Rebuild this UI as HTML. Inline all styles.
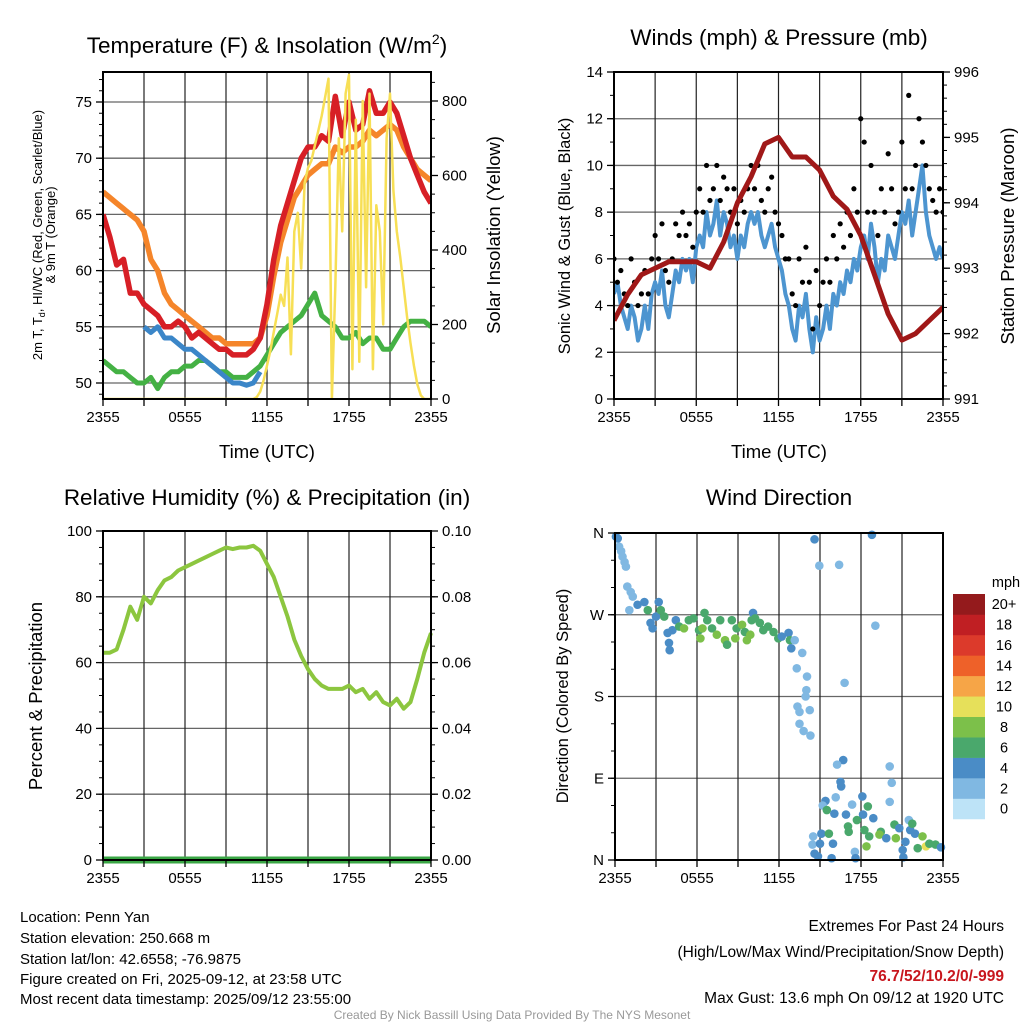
<!DOCTYPE html>
<html><head><meta charset="utf-8">
<style>
html,body{margin:0;padding:0;background:#fff;}
svg{display:block;font-family:"Liberation Sans",Arial,sans-serif;}
</style></head>
<body>
<svg id="chart" width="1024" height="1024" viewBox="0 0 1024 1024" xmlns="http://www.w3.org/2000/svg">
<rect width="1024" height="1024" fill="#fff"/>
<g id="p1"></g>
<g id="p2"></g>
<g id="p3"></g>
<g id="p4"></g>

<text x="267" y="53" font-size="22.5" text-anchor="middle">Temperature (F) &amp; Insolation (W/m<tspan dy="-9" font-size="14">2</tspan><tspan dy="9">)</tspan></text>
<text x="779" y="45" font-size="22.5" text-anchor="middle">Winds (mph) &amp; Pressure (mb)</text>
<text x="267" y="505" font-size="22.5" text-anchor="middle">Relative Humidity (%) &amp; Precipitation (in)</text>
<text x="779" y="505" font-size="22.5" text-anchor="middle">Wind Direction</text>

<text x="267" y="458" font-size="18.5" text-anchor="middle">Time (UTC)</text>
<text x="779" y="458" font-size="18.5" text-anchor="middle">Time (UTC)</text>

<text transform="translate(42,235) rotate(-90)" font-size="13" text-anchor="middle">2m T, T<tspan dy="3" font-size="9">d</tspan><tspan dy="-3">, HI/WC (Red, Green, Scarlet/Blue)</tspan></text>
<text transform="translate(55,235) rotate(-90)" font-size="13" text-anchor="middle">&amp; 9m T (Orange)</text>
<text transform="translate(500,235) rotate(-90)" font-size="18.5" text-anchor="middle">Solar Insolation (Yellow)</text>
<text transform="translate(570,236) rotate(-90)" font-size="16.5" text-anchor="middle">Sonic Wind &amp; Gust (Blue, Black)</text>
<text transform="translate(1014,236) rotate(-90)" font-size="18.5" text-anchor="middle">Station Pressure (Maroon)</text>
<text transform="translate(42,696) rotate(-90)" font-size="18.5" text-anchor="middle">Percent &amp; Precipitation</text>
<text transform="translate(568,696) rotate(-90)" font-size="16.5" text-anchor="middle">Direction (Colored By Speed)</text>

<g font-size="15">
<text x="20" y="922">Location: Penn Yan</text>
<text x="20" y="943">Station elevation: 250.668 m</text>
<text x="20" y="964">Station lat/lon: 42.6558; -76.9875</text>
<text x="20" y="984">Figure created on Fri, 2025-09-12, at 23:58 UTC</text>
<text x="20" y="1004">Most recent data timestamp: 2025/09/12 23:55:00</text>
</g>
<g font-size="15.5" text-anchor="end">
<text x="1004" y="931">Extremes For Past 24 Hours</text>
<text x="1004" y="957">(High/Low/Max Wind/Precipitation/Snow Depth)</text>
<text x="1004" y="981" font-weight="bold" fill="#c8171e">76.7/52/10.2/0/-999</text>
<text x="1004" y="1003">Max Gust: 13.6 mph On 09/12 at 1920 UTC</text>
</g>
<text x="512" y="1019" font-size="12" fill="#999" text-anchor="middle">Created By Nick Bassill Using Data Provided By The NYS Mesonet</text>
</svg>
<script>
// ---------- data ----------
const xTickLabels = ["2355","0555","1155","1755","2355"];
const tempLeftTicks = [50,55,60,65,70,75];
const solarTicks = [0,200,400,600,800];
const windTicks = [0,2,4,6,8,10,12,14];
const pressTicks = [991,992,993,994,995,996];
const rhTicks = [0,20,40,60,80,100];
const precipTicks = ["0.00","0.02","0.04","0.06","0.08","0.10"];
const dirTicks = ["N","E","S","W","N"];
const speedBins = ["0","2","4","6","8","10","12","14","16","18","20+"];
const speedColors = ["#bde3f7","#80b8e2","#4a8cc6","#4aa86c","#7cc04a","#e6e05a","#f6a547","#ee6129","#dc3a2b","#c01f23","#941a1c"];

const tempRed = [65,63,60.5,61,58,58,57,56.5,56,55,55,55.5,55,54,54.5,54,53.5,53,53,52.5,52.5,52.5,53,54,57,61,64,66,68,70,71,71,72,71.5,75.5,72,75,72.5,73,76,74,74,75,74,72,70,68.5,67,66];
const tempOrange = [67,66.5,66,65.5,65,64.5,63.5,61,60,58,57,56.5,56,55.5,55,54.5,54,54,53.5,53.5,53.5,53.5,53.5,54,56,59.5,62.5,64.5,66.5,67.5,68.5,69,69.5,69.5,71,70.5,71,71,71.5,72.5,72,72.5,73,72.5,71,70,69,68.5,68];
const tempGreen = [52,51.5,51,51,50.5,50,50,50.5,49.5,50.5,51,51,51.5,51.5,52,52,51.5,51,51,50.5,50.5,50.5,51,51.5,52.5,53.5,54.5,55,55.5,56,57,58,56,55.5,55,54,54,54.5,53.5,54,54,53,53,54,55,55.5,55.5,55.5,55];
const hiwcStartHour = 3;
const hiwcBlue = [55,54.5,55,54,54,53.5,53,53,52.5,52,51.5,51,50.5,50,50,49.8,50,51];
const solarHours = [0,11,11.25,11.5,11.75,12,12.25,12.5,12.75,13,13.25,13.5,13.75,14,14.25,14.5,14.75,15,15.25,15.5,15.75,16,16.25,16.5,16.75,17,17.25,17.5,17.75,18,18.25,18.5,18.75,19,19.25,19.5,19.75,20,20.25,20.5,20.75,21,21.25,21.5,21.75,22,22.25,22.5,22.75,23,23.25,23.5,24];
const solarVals = [0,0,5,20,50,90,130,180,230,280,250,380,120,450,500,350,580,620,640,680,720,760,810,860,0,300,700,450,820,870,80,750,100,800,300,820,80,520,450,200,700,820,560,450,380,300,220,150,90,40,10,0,0];

const windBlue = [4.5,5,4,3.5,3,4,3.5,2.5,3, 4,3,4.5,5,4.5,5.5,4,3.5, 4.5,5.5,5,6,5.5,6,5,6.5, 7,6.5,8,7,7.5,8.5,7,8, 7.5,6.5,7,6,7,6.5,7.5,8, 7.5,8,7,6.5,7,7.5,6.5,6, 5.5,4.5,4,3,2.5,4,3.5,4.5, 3,2,3.5,2.5,3,4,3,4.5, 4,5,4.5,5.5,5,6,5.5,6.5, 7,6,7.5,6.5,5,6,5.5,7, 6.5,6,7,8,7.5,8.5,7,8, 9,10,8,7,6.5,6,6.5,6];
const windGust = [6,5,5.5,4.5,4,6,5,4,4.5, 5.5,4.5,6,7,6,7.5,5.5,5, 6,7.5,7,8,7,7.5,6.5,8, 9,8,10,8.5,9,10,8.5,9.5, 9,8,9,7.5,8.5,8,9,10, 9,10,8.5,8,9,9.5,8,7.5, 7,6,6,4.5,4,6,5,6.5, 5,3,5.5,4,5,6,5,7, 6,7.5,6.5,8,7,9,8,12, 11,8,10,8,7,9,8,10.5, 9,7.5,8,11,9,13,9,10, 12,11,10,9,8.5,8,9,8];
const pressure = [992.2,992.6,992.9,993.0,993.1,993.1,993.1,993.0,993.4,994.0,994.4,994.9,995.0,994.7,994.7,994.5,994.1,993.9,993.5,992.9,992.3,991.9,992.0,992.2,992.4];

const rh = [63,63,64,70,77,73,80,78,82,85,86,88,89,90,91,92,93,94,95,94.5,95,95,95.5,94,90,86,80,74,67,62,58,55,53,52,52,52,53,51,52,49,51,48,47,49,46,48,55,63,69];
const precip = [0,0,0,0,0,0,0,0,0,0,0,0,0,0,0,0,0,0,0,0,0,0,0,0,0];

const dirHours = [0.07,0.2,0.3,0.45,0.55,0.7,0.8,0.9,1.15,1.3,1.05,1.65,2.15,2.4,2.6,2.75,3.0,3.2,3.35,3.6,3.85,3.95,4.0,4.2,4.45,4.7,5.05,5.4,5.75,6.15,6.25,6.4,6.55,6.75,7.1,7.45,7.7,8.05,8.2,8.55,8.8,8.9,9.3,9.5,9.65,9.9,10.0,10.1,10.25,10.6,10.85,11.2,11.6,11.95,12.2,12.7,12.8,12.9,13.15,13.7,13.3,14.05,14.0,13.95,13.35,13.5,14.25,13.5,13.8,14.3,14.6,14.95,16.4,18.8,19.05,16.8,16.7,16.25,16.5,16.55,16.15,15.4,15.2,15.5,16.05,16.9,17.35,18.1,18.5,18.15,17.7,17.05,17.1,18.25,18.6,18.4,18.9,19.45,19.35,19.85,20.1,20.1,20.25,20.45,20.55,20.8,21.1,21.25,21.5,21.6,21.75,21.95,22.15,22.5,22.75,23.0,23.45,23.85,14.5,14.45,14.6,14.85,15.0,15.1,15.65,15.95,15.85,17.55,17.6,21.05];
const dirDeg = [356,354,345,340,334,328,323,301,295,290,275,281,284,275,261,255,268,284,275,268,250,239,231,253,264,257,255,264,266,253,244,255,272,264,255,248,264,242,237,264,244,255,259,251,242,248,264,272,266,261,253,257,251,244,246,250,242,233,242,228,211,202,187,180,169,163,165,150,142,137,353,324,325,358,258,195,110,105,86,81,69,65,60,55,51,50,61,70,59,50,44,37,31,33,26,15,46,31,28,24,64,103,85,39,24,35,3,20,44,33,40,29,13,26,15,18,17,14,26,17,7,4,18,29,29,18,2,9,2,11];
const dirSpeed = [4.5,4.5,2.5,2.5,2.5,2.5,2.5,2.5,2.5,2.5,2.5,4.5,4.5,6.5,4.5,4.5,4.5,4.5,6.5,6.5,4.5,4.5,4.5,4.5,4.5,6.5,8.5,6.5,6.5,6.5,8.5,8.5,6.5,6.5,6.5,8.5,6.5,8.5,6.5,6.5,8.5,6.5,8.5,6.5,8.5,8.5,6.5,4.5,6.5,6.5,6.5,6.5,6.5,6.5,4.5,4.5,6.5,4.5,2.5,2.5,2.5,2.5,2.5,2.5,2.5,2.5,2.5,2.5,2.5,2.5,4.5,2.5,2.5,4.5,2.5,2.5,4.5,2.5,4.5,4.5,2.5,4.5,2.5,6.5,4.5,4.5,2.5,4.5,6.5,4.5,6.5,6.5,6.5,6.5,6.5,8.5,4.5,6.5,8.5,4.5,2.5,2.5,2.5,6.5,8.5,4.5,4.5,4.5,2.5,4.5,6.5,4.5,6.5,8.5,10.5,6.5,6.5,4.5,2.5,2.5,4.5,4.5,4.5,4.5,6.5,4.5,4.5,2.5,4.5,4.5];

// ---------- helpers ----------
const NS = "http://www.w3.org/2000/svg";
function mk(parent, tag, attrs){ const e=document.createElementNS(NS,tag); for(const k in attrs) e.setAttribute(k,attrs[k]); parent.appendChild(e); return e; }
function lin(d0,d1,r0,r1){ return v => r0 + (v-d0)/(d1-d0)*(r1-r0); }
function pathFrom(xs, ys){ return xs.map((x,i)=>(i?"L":"M")+x.toFixed(1)+","+ys[i].toFixed(1)).join(""); }

function frame(g, L, T, R, B, hLines, vLines){
  for(const y of hLines){
    const ln = mk(g,"line",{x1:L,x2:R,y1:y,y2:y,stroke:"#666","stroke-width":1.3});
    
    
  }
  for(const x of vLines){
    const ln = mk(g,"line",{x1:x,x2:x,y1:T,y2:B,stroke:"#222","stroke-width":1.2});
    
    
  }
}
function border(g,L,T,R,B){
  const r = mk(g,"rect",{x:L,y:T,width:R-L,height:B-T,fill:"none",stroke:"#000","stroke-width":2});
  
  
}
function xAxis(g,L,R,B){
  const xs = lin(0,24,L,R);
  xTickLabels.forEach((lab,i)=>{
    const x = xs(i*6);
    const t = mk(g,"text",{x:x,y:B+23,"font-size":15,"text-anchor":"middle"});
    t.textContent = lab;
    
    
  });
  for(let h=0;h<=24;h+=3){ mk(g,"line",{x1:xs(h),x2:xs(h),y1:B,y2:B+7,stroke:"#000","stroke-width":1.3}); }
}
function yAxis(g, ticks, labels, scale, xEdge, side, minorStep, minorRange){
  const dir = side==="left"?-1:1;
  if(minorStep){
    for(let v=minorRange[0]; v<=minorRange[1]+1e-9; v+=minorStep){
      mk(g,"line",{x1:xEdge,x2:xEdge+dir*4,y1:scale(v),y2:scale(v),stroke:"#000","stroke-width":1});
    }
  }
  ticks.forEach((v,i)=>{
    const y = scale(v);
    mk(g,"line",{x1:xEdge,x2:xEdge+dir*7,y1:y,y2:y,stroke:"#000","stroke-width":1.3});
    const t = mk(g,"text",{x:xEdge+dir*11,y:y+5,"font-size":15,"text-anchor":side==="left"?"end":"start"});
    t.textContent = labels[i];
    
    
  });
}

// ---------- Panel 1: temperature ----------
(function(){
  const g=document.getElementById("p1");
  const L=103,R=431,T=72,B=399;
  const xs=lin(0,24,L,R), ys=lin(50,75,383,102), ysol=lin(0,800,399,101);
  frame(g,L,T,R,B,tempLeftTicks.map(ys),[3,6,9,12,15,18,21].map(xs));
  const clip=mk(g,"clipPath",{id:"c1"}); mk(clip,"rect",{x:L,y:T,width:R-L,height:B-T});
  const pg=mk(g,"g",{"clip-path":"url(#c1)"});
  function series(arr, start, step, color, w, name){
    const p=mk(pg,"path",{d:pathFrom(arr.map((v,i)=>xs(start+i*step)),arr.map(ys)),fill:"none",stroke:color,"stroke-width":w,"stroke-linejoin":"round"});
    
    
  }
  series(tempGreen,0,0.5,"#44b144",5,"dewpoint-line");
  series(hiwcBlue,hiwcStartHour,0.5,"#3b86c8",5,"heat-index-line");
  series(tempOrange,0,0.5,"#f5852a",5.5,"temp-9m-line");
  series(tempRed,0,0.5,"#d71f26",5.5,"temp-2m-line");
  const sp=mk(pg,"path",{d:pathFrom(solarHours.map(xs),solarVals.map(ysol)),fill:"none",stroke:"#f7df55","stroke-width":2.5,"stroke-linejoin":"round"});
  
  
  border(g,L,T,R,B);
  xAxis(g,L,R,B);
  yAxis(g,tempLeftTicks,tempLeftTicks.map(String),ys,L,"left",1,[49,77]);
  yAxis(g,solarTicks,solarTicks.map(String),ysol,R,"right",50,[0,850]);
})();

// ---------- Panel 2: wind ----------
(function(){
  const g=document.getElementById("p2");
  const L=614,R=943,T=72,B=399;
  const xs=lin(0,24,L,R), ys=lin(0,14,399,72), yp=lin(991,996,399,72);
  frame(g,L,T,R,B,windTicks.slice(1,-1).map(ys),[3,6,9,12,15,18,21].map(xs));
  const clip=mk(g,"clipPath",{id:"c2"}); mk(clip,"rect",{x:L,y:T,width:R-L,height:B-T});
  const pg=mk(g,"g",{"clip-path":"url(#c2)"});
  const wp=mk(pg,"path",{d:pathFrom(windBlue.map((v,i)=>xs(i*0.25)),windBlue.map(ys)),fill:"none",stroke:"#4d95d0","stroke-width":4,"stroke-linejoin":"round"});
  
  
  windGust.forEach((v,i)=>{
    const c=mk(pg,"circle",{cx:xs(i*0.25),cy:ys(v),r:2.6,fill:"#000"});
    
    
  });
  const pp=mk(pg,"path",{d:pathFrom(pressure.map((v,i)=>xs(i)),pressure.map(yp)),fill:"none",stroke:"#a01818","stroke-width":5,"stroke-linejoin":"round"});
  
  
  border(g,L,T,R,B);
  xAxis(g,L,R,B);
  yAxis(g,windTicks,windTicks.map(String),ys,L,"left",1,[0,14]);
  yAxis(g,pressTicks,pressTicks.map(String),yp,R,"right",0.2,[991,996]);
})();

// ---------- Panel 3: humidity ----------
(function(){
  const g=document.getElementById("p3");
  const L=103,R=431,T=531,B=860;
  const xs=lin(0,24,L,R), ys=lin(0,100,860,531), yq=lin(0,0.1,860,531);
  frame(g,L,T,R,B,rhTicks.slice(1,-1).map(ys),[3,6,9,12,15,18,21].map(xs));
  const rp=mk(g,"path",{d:pathFrom(rh.map((v,i)=>xs(i*0.5)),rh.map(ys)),fill:"none",stroke:"#8cc63f","stroke-width":4,"stroke-linejoin":"round"});
  
  
  const qp=mk(g,"path",{d:pathFrom(precip.map((v,i)=>xs(i)),precip.map(yq)),fill:"none",stroke:"#3aa645","stroke-width":7});
  
  
  border(g,L,T,R,B);
  xAxis(g,L,R,B);
  yAxis(g,rhTicks,rhTicks.map(String),ys,L,"left",5,[0,100]);
  yAxis(g,precipTicks.map(Number),precipTicks,yq,R,"right",0.005,[0,0.1]);
})();

// ---------- Panel 4: wind direction ----------
(function(){
  const g=document.getElementById("p4");
  const L=615,R=943,T=533,B=860;
  const xs=lin(0,24,L,R), ys=lin(0,360,860,533);
  frame(g,L,T,R,B,[90,180,270].map(ys),[3,6,9,12,15,18,21].map(xs));
  dirHours.forEach((h,i)=>{
    const bin=Math.min(10,Math.floor(dirSpeed[i]/2));
    const c=mk(g,"circle",{cx:xs(h),cy:ys(dirDeg[i]),r:4.3,fill:speedColors[bin]});
    
    
  });
  border(g,L,T,R,B);
  xAxis(g,L,R,B);
  yAxis(g,[0,90,180,270,360],dirTicks,ys,L,"left",30,[0,360]);
  const cb=mk(g,"g",{});
  
  
  const top=594,bh=20.45;
  speedBins.forEach((lab,i)=>{
    const yy=top+(10-i)*bh;
    const r=mk(cb,"rect",{x:953,y:yy,width:32,height:bh+0.3,fill:speedColors[i]});
    
    
    const t=mk(cb,"text",{x:1004,y:yy+bh/2+5,"font-size":14.5,"text-anchor":"middle"});
    t.textContent=lab;
    
    
  });
  const u=mk(cb,"text",{x:1006,y:587,"font-size":14.5,"text-anchor":"middle"});
  u.textContent="mph";
  
  
})();
</script>
</body></html>
